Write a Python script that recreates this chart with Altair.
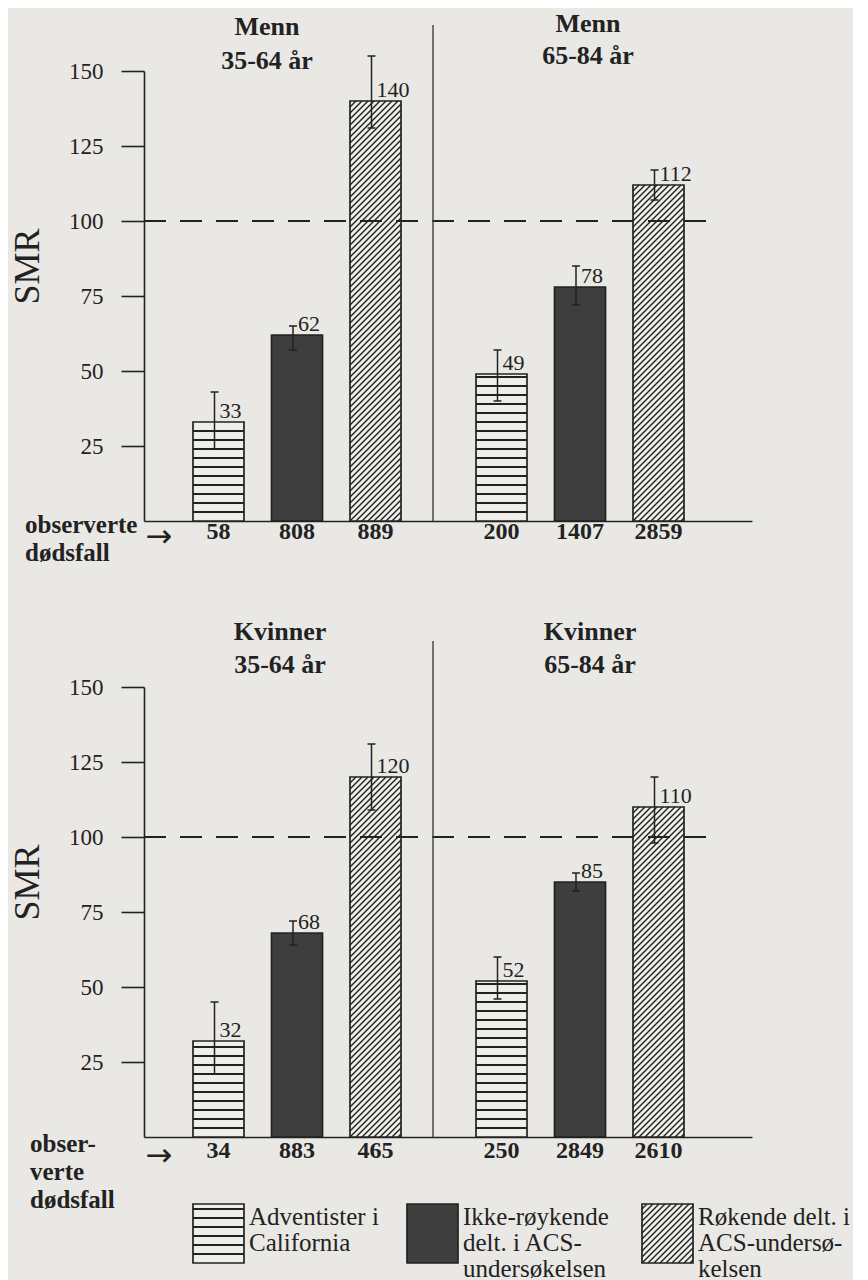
import altair as alt
import pandas as pd

# ---------------- data ----------------
sexes = ["Menn", "Kvinner"]
age_groups = ["35-64 år", "65-84 år"]
series_keys = ["adv", "non", "smk"]
series_labels = [
    ["Adventister i", "California"],
    ["Ikke-røykende", "delt. i ACS-", "undersøkelsen"],
    ["Røkende delt. i", "ACS-undersø-", "kelsen"],
]

smr_menn = [33, 62, 140, 49, 78, 112]
lo_menn = [24, 57, 131, 40, 72, 107]
hi_menn = [43, 65, 155, 57, 85, 117]
deaths_menn = [58, 808, 889, 200, 1407, 2859]

smr_kvinner = [32, 68, 120, 52, 85, 110]
lo_kvinner = [21, 64, 109, 46, 82, 98]
hi_kvinner = [45, 72, 131, 60, 88, 120]
deaths_kvinner = [34, 883, 465, 250, 2849, 2610]

y_ticks = [25, 50, 75, 100, 125, 150]
reference_smr = 100
obs_label_menn = ["observerte", "dødsfall"]
obs_label_kvinner = ["obser-", "verte", "dødsfall"]
arrow = "→"

# ---------------- style / layout ----------------
PAPER = "#e9e8e4"
PAPER_LIGHT = "#efeeea"
INK = "#222222"
DARK = "#3e3e3e"
SERIF = "Liberation Serif"
W, H = 608, 450
YMAX = 150
PXU = H / YMAX
BAR_W = 51
GROUP_X0 = 49
GROUP_SHIFT = 283
STEP = 78.5
ERR_DX = -4
CAP = 4
SEP_X = 289
REF_X2 = 566
STRIPE = 3.0
HATCH = 6.0
LEG_X = [49, 263, 498]
LEG_TOP, LEG_BOT = 517, 576
LEG_TEXT_DX = 5
LINE = 26


def yu(py):
    """pixels below plot top -> SMR units"""
    return YMAX - py / PXU


xs = alt.Scale(domain=[0, W], nice=False, zero=False)
ys = alt.Scale(domain=[0, YMAX], nice=False, zero=False)
XAXIS = alt.Axis(title=None, labels=False, ticks=False, grid=False, domain=True,
                 domainColor=INK, domainWidth=1.6)
YAXIS = alt.Axis(values=y_ticks, title="SMR", grid=False, tickSize=23, tickWidth=1.6,
                 tickColor=INK, domainColor=INK, domainWidth=1.6, labelFont=SERIF,
                 labelFontSize=23, labelColor=INK, labelPadding=18, labelFlush=False,
                 labelOverlap=False, titleFont=SERIF, titleFontSize=36,
                 titleFontWeight="normal", titleColor=INK, titleAngle=270, titleX=-117,
                 titleY=195, titleAlign="center", titleBaseline="middle")


def patterned(base, with_axes):
    if with_axes:
        xe = alt.X("xa:Q", scale=xs, axis=XAXIS)
        ye = alt.Y("y0:Q", scale=ys, axis=YAXIS)
    else:
        xe = alt.X("xa:Q")
        ye = alt.Y("y0:Q")
    fill = base.mark_rect(strokeWidth=0).encode(
        x=xe, x2="xb:Q", y=ye, y2="y1:Q",
        fill=alt.Fill("kind:N", scale=alt.Scale(domain=series_keys,
                                                range=[PAPER_LIGHT, DARK, PAPER_LIGHT]),
                      legend=None))
    stripes = base.transform_filter("datum.kind == 'adv'").transform_calculate(
        s=f"sequence(datum.y0 + {STRIPE}, datum.y1 - 0.6, {STRIPE})"
    ).transform_flatten(["s"]).mark_rule(color=INK, strokeWidth=1.8).encode(
        x="xa:Q", x2="xb:Q", y="s:Q")
    hatch = base.transform_filter("datum.kind == 'smk'").transform_calculate(
        w="datum.xb - datum.xa",
        h=f"(datum.y1 - datum.y0) * {PXU}",
    ).transform_calculate(
        c=f"sequence(-datum.w + {HATCH / 2}, datum.h, {HATCH})"
    ).transform_flatten(["c"]).transform_calculate(
        u1="max(0, -datum.c)",
        u2="min(datum.w, datum.h - datum.c)",
    ).transform_filter("datum.u2 > datum.u1").transform_calculate(
        hx1="datum.xa + datum.u1",
        hx2="datum.xa + datum.u2",
        hy1=f"datum.y0 + (datum.u1 + datum.c) / {PXU}",
        hy2=f"datum.y0 + (datum.u2 + datum.c) / {PXU}",
    ).mark_rule(color=INK, strokeWidth=1.4).encode(
        x="hx1:Q", x2="hx2:Q", y="hy1:Q", y2="hy2:Q")
    outline = base.mark_rect(fill="white", fillOpacity=0, stroke=INK, strokeWidth=1.7).encode(
        x="xa:Q", x2="xb:Q", y="y0:Q", y2="y1:Q")
    return [fill, stripes, hatch, outline]


def text_df(rows):
    return pd.DataFrame(rows, columns=["text", "x", "y"])


def row(sex, smr, lo, hi, deaths, title_py, title_x, obs_lines, obs_x, obs_py0,
        arrow_py, deaths_dy, legend=False):
    n = len(smr)
    k = len(series_keys)
    df = pd.DataFrame({
        "g": [j // k for j in range(n)],
        "i": [j % k for j in range(n)],
        "kind": series_keys * (n // k),
        "smr": smr, "lo": lo, "hi": hi,
        "deaths": [str(d) for d in deaths],
    })
    base = alt.Chart(df).transform_calculate(
        xa=f"{GROUP_X0} + datum.g * {GROUP_SHIFT} + datum.i * {STEP}",
        xb=f"datum.xa + {BAR_W}",
        xc=f"datum.xa + {BAR_W / 2}",
        xe=f"datum.xa + {BAR_W / 2 + ERR_DX}",
        y0="0",
        y1="datum.smr",
    )
    layers = patterned(base, True)

    refline = alt.Chart(pd.DataFrame({"v": [reference_smr]})).mark_rule(
        color=INK, strokeWidth=2, strokeDash=[22, 14]).encode(
        x=alt.datum(0), x2=alt.datum(REF_X2), y="v:Q")
    sep = alt.Chart(pd.DataFrame({"v": [0]})).mark_rule(color="#4a4a4a", strokeWidth=1.5).encode(
        x=alt.datum(SEP_X), y="v:Q", y2=alt.datum(yu(-46)))
    err = base.mark_rule(color=INK, strokeWidth=1.5).encode(x="xe:Q", y="lo:Q", y2="hi:Q")
    caps = base.transform_fold(["lo", "hi"], as_=["end", "v"]).transform_calculate(
        c1=f"datum.xe - {CAP}", c2=f"datum.xe + {CAP}").mark_rule(
        color=INK, strokeWidth=1.5).encode(x="c1:Q", x2="c2:Q", y="v:Q")
    vals = base.mark_text(align="left", baseline="alphabetic", dx=5, dy=-4, font=SERIF,
                          fontSize=22, color=INK).encode(x="xe:Q", y="smr:Q", text="smr:Q")
    dts = base.mark_text(baseline="middle", dy=deaths_dy, font=SERIF, fontSize=24,
                         fontWeight="bold", color=INK).encode(
        x="xc:Q", y="y0:Q", text="deaths:N")

    trows = []
    for gi, ag in enumerate(age_groups):
        trows.append([sex, title_x[gi], yu(title_py[gi][0])])
        trows.append([ag, title_x[gi], yu(title_py[gi][1])])
    titles = alt.Chart(text_df(trows)).mark_text(
        font=SERIF, fontSize=26, fontWeight="bold", color=INK, baseline="middle").encode(
        x="x:Q", y="y:Q", text="text:N")

    orows = [[t, obs_x, yu(obs_py0 + j * 28)] for j, t in enumerate(obs_lines)]
    obs = alt.Chart(text_df(orows)).mark_text(
        font=SERIF, fontSize=25, fontWeight="bold", color=INK, align="left",
        baseline="middle").encode(x="x:Q", y="y:Q", text="text:N")
    arr = alt.Chart(text_df([[arrow, 15, yu(arrow_py)]])).mark_text(
        font="DejaVu Sans", fontSize=32, color=INK, baseline="middle").encode(
        x="x:Q", y="y:Q", text="text:N")

    layers += [refline, sep, err, caps, vals, dts, titles, obs, arr]

    if legend:
        ldf = pd.DataFrame({"kind": series_keys, "k": list(range(k))})
        lbase = alt.Chart(ldf).transform_calculate(
            xa=f"{LEG_X}[datum.k]",
            xb=f"datum.xa + {BAR_W}",
            y0=f"{yu(LEG_BOT)}",
            y1=f"{yu(LEG_TOP)}",
        )
        layers += patterned(lbase, False)
        lrows = []
        for j, lines in enumerate(series_labels):
            for m, t in enumerate(lines):
                lrows.append([t, LEG_X[j] + BAR_W + LEG_TEXT_DX, yu(LEG_TOP + 13 + m * LINE)])
        ltext = alt.Chart(text_df(lrows)).mark_text(
            font=SERIF, fontSize=25, color=INK, align="left", baseline="middle").encode(
            x="x:Q", y="y:Q", text="text:N")
        layers.append(ltext)

    return alt.layer(*layers).properties(width=W, height=H)


top = row(sexes[0], smr_menn, lo_menn, hi_menn, deaths_menn,
          title_py=[(-44, -10), (-47, -15)], title_x=[123, 444],
          obs_lines=obs_label_menn, obs_x=-119, obs_py0=454, arrow_py=466, deaths_dy=11)
bottom = row(sexes[1], smr_kvinner, lo_kvinner, hi_kvinner, deaths_kvinner,
             title_py=[(-55, -22), (-55, -22)], title_x=[136, 446],
             obs_lines=obs_label_kvinner, obs_x=-114, obs_py0=457, arrow_py=469,
             deaths_dy=14, legend=True)

chart = alt.vconcat(top, bottom, spacing=166, bounds="flush").properties(
    padding={"left": 1, "top": 3, "right": 2, "bottom": 0}
).configure(background=PAPER).configure_view(strokeWidth=0)

chart.save("out.html", embed_options={"renderer": "svg", "actions": False})
